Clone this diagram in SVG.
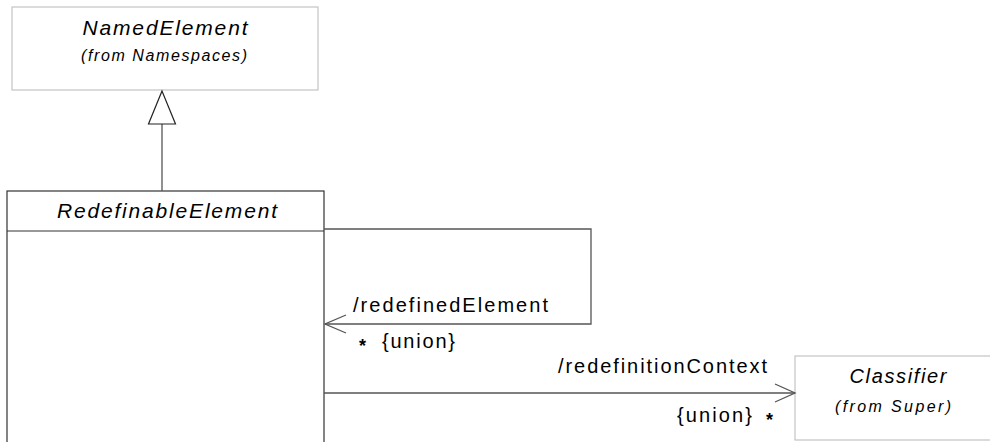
<svg xmlns="http://www.w3.org/2000/svg" width="990" height="442" viewBox="0 0 990 442">
<style>
.lite{fill:#fff;stroke:#c4c4c4;stroke-width:1.2}
.dark{fill:#fff;stroke:#333;stroke-width:1.2}
.conn{fill:none;stroke:#555;stroke-width:1.3}
.t{font-family:"Liberation Sans",Arial,sans-serif;fill:#000}
.it{font-style:italic}
.star{font-weight:bold}
</style>
<g id="NamedElement">
<rect class="lite" x="12" y="7" width="306" height="83"/>
<text class="t it" x="165" y="35" font-size="21" text-anchor="middle" textLength="165" lengthAdjust="spacing">NamedElement</text>
<text class="t it" x="164" y="61" font-size="16" text-anchor="middle" textLength="166" lengthAdjust="spacing">(from Namespaces)</text>
</g>
<g id="RedefinableElement">
<rect class="dark" x="7" y="191" width="317" height="260"/>
<line class="dark" x1="7" y1="231" x2="324" y2="231"/>
<text class="t it" x="167" y="218" font-size="21" text-anchor="middle" textLength="220" lengthAdjust="spacing">RedefinableElement</text>
</g>
<g id="Classifier">
<rect class="lite" x="795" y="356" width="210" height="84"/>
<text class="t it" x="898" y="383" font-size="20" text-anchor="middle" textLength="97" lengthAdjust="spacing">Classifier</text>
<text class="t it" x="893" y="412" font-size="16" text-anchor="middle" textLength="116" lengthAdjust="spacing">(from Super)</text>
</g>
<g id="connectors">
<line class="conn" x1="162" y1="124" x2="162" y2="191"/>
<polygon points="162,91 148.5,124 175.5,124" fill="#fff" stroke="#222" stroke-width="1.2"/>
<polyline class="conn" points="324,229 591,229 591,324 325,324"/>
<polyline class="conn" points="346,315 325,324 346,333"/>
<line class="conn" x1="324" y1="393" x2="795" y2="393"/>
<polyline class="conn" points="775,384 795,393 775,402"/>
<text class="t" x="353" y="312" font-size="20" textLength="195" lengthAdjust="spacing">/redefinedElement</text>
<text class="t star" x="359" y="352" font-size="18">*</text>
<text class="t" x="382" y="348" font-size="20" textLength="73" lengthAdjust="spacing">{union}</text>
<text class="t" x="558" y="373" font-size="20" textLength="209" lengthAdjust="spacing">/redefinitionContext</text>
<text class="t" x="677" y="422" font-size="20" textLength="75" lengthAdjust="spacing">{union}</text>
<text class="t star" x="766" y="426" font-size="18">*</text>
</g>
</svg>
